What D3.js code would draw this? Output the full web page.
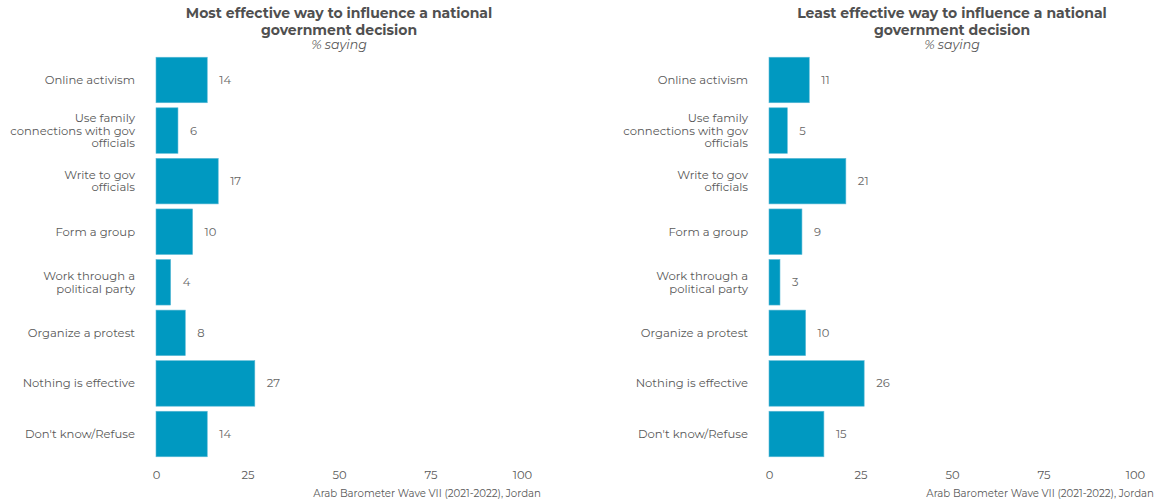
<!DOCTYPE html>
<html><head><meta charset="utf-8">
<script src="https://cdn.jsdelivr.net/npm/d3@7"></script>
<style>body{margin:0;background:#fff}svg{display:block}text{font-family:Montserrat,"DejaVu Sans",sans-serif}</style>
</head><body>
<script>
const categories = [
  ["Online activism"],
  ["Use family","connections with gov","officials"],
  ["Write to gov","officials"],
  ["Form a group"],
  ["Work through a","political party"],
  ["Organize a protest"],
  ["Nothing is effective"],
  ["Don't know/Refuse"]
];
const mostValues = [14, 6, 17, 10, 4, 8, 27, 14];
const leastValues = [11, 5, 21, 9, 3, 10, 26, 15];
const xTicks = [0, 25, 50, 75, 100];
const titles = [
  ["Most effective way to influence a national","government decision"],
  ["Least effective way to influence a national","government decision"]
];
const subtitle = "% saying";
const caption = "Arab Barometer Wave VII (2021-2022), Jordan";

const W = 1156, H = 500;
const svg = d3.select("body").append("svg").attr("width", W).attr("height", H);
const grey = "#595959";
const barColor = "#0099c1";

function panel(x0, x1, values, title) {
  const g = svg.append("g");
  const x = d3.scaleLinear().domain([0, 100]).range([x0, x1]);
  const idx = d3.range(categories.length);
  const y = d3.scaleBand().domain(idx).range([54.7, 459.3]).paddingInner(0.1).paddingOuter(0.05);
  g.selectAll("rect").data(idx).join("rect")
    .attr("x", x(0)).attr("y", i => y(i))
    .attr("width", i => x(values[i]) - x(0)).attr("height", y.bandwidth())
    .attr("fill", barColor).attr("stroke", "#5cb9d6").attr("stroke-width", 0.6);
  g.selectAll("text.val").data(idx).join("text").attr("class","val")
    .attr("x", i => x(values[i]) + 12).attr("y", i => y(i) + y.bandwidth()/2)
    .attr("dy", "0.35em").attr("font-size", 11.5).attr("fill", "#666")
    .text(i => values[i]);
  const lab = g.selectAll("text.cat").data(idx).join("text").attr("class","cat")
    .attr("text-anchor", "end").attr("font-size", 11.6).attr("fill", grey);
  lab.each(function(i) {
    const lines = categories[i];
    const cy = y(i) + y.bandwidth()/2;
    const lh = 12.5;
    lines.forEach((l, k) => {
      d3.select(this).append("tspan").attr("x", x0 - 21)
        .attr("y", cy + (k - (lines.length - 1)/2) * lh).attr("dy", "0.35em").text(l);
    });
  });
  const ax = d3.axisBottom(x).tickValues(xTicks).tickSize(0).tickPadding(0);
  const axg = g.append("g").attr("transform", `translate(0,471)`).call(ax);
  axg.select(".domain").remove();
  axg.selectAll("text").attr("font-size", 11.5).attr("fill", grey)
    .attr("font-family", 'Montserrat,"DejaVu Sans",sans-serif');
  const cx = (x0 + x1) / 2;
  title.forEach((t, k) => {
    g.append("text").attr("x", cx).attr("y", 18 + k * 16.5).attr("text-anchor","middle")
      .attr("font-size", 14).attr("font-weight","bold").attr("fill", "#505050").text(t);
  });
  g.append("text").attr("x", cx).attr("y", 49).attr("text-anchor","middle")
    .attr("font-size", 12.6).attr("font-style","italic").attr("fill", grey).text(subtitle);
  g.append("text").attr("x", x1 + 19).attr("y", 497).attr("text-anchor","end")
    .attr("font-size", 10.2).attr("fill", grey).text(caption);
}
panel(156, 522, mostValues, titles[0]);
panel(769, 1135, leastValues, titles[1]);
</script>
</body></html>
